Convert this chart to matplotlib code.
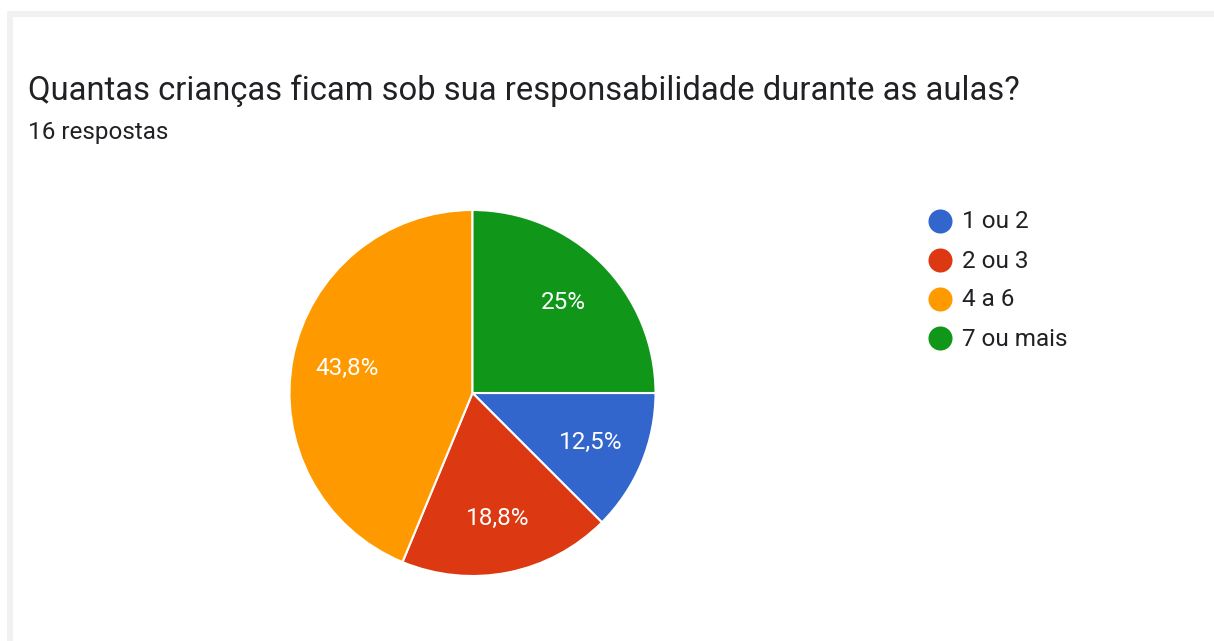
import matplotlib.pyplot as plt

# Dados do gráfico (16 respostas)
categorias = ['1 ou 2', '2 ou 3', '4 a 6', '7 ou mais']
respostas = [2, 3, 7, 4]
cores = ['#3366cc', '#dc3912', '#ff9900', '#109618']
titulo = 'Quantas crianças ficam sob sua responsabilidade durante as aulas?'
subtitulo = '16 respostas'

plt.rcParams['font.family'] = ['Roboto', 'DejaVu Sans']

W, H = 1214, 641
fig = plt.figure(figsize=(W / 100, H / 100), dpi=100)

# Fundo / moldura em coordenadas de pixel
bg = fig.add_axes([0, 0, 1, 1])
bg.set_xlim(0, W)
bg.set_ylim(H, 0)
bg.axis('off')
bg.add_patch(plt.Rectangle((7, 11), W - 7, 6, color='#f1f1f1', lw=0))
bg.add_patch(plt.Rectangle((7, 11), 6, H - 11, color='#f1f1f1', lw=0))

bg.text(28, 100, titulo, fontsize=23.6, color='#202124', va='baseline', ha='left')
bg.text(28, 139, subtitulo, fontsize=17.5, color='#202124', va='baseline', ha='left')

# Legenda
for i, (cat, cor) in enumerate(zip(categorias, cores)):
    y = 221 + i * 39
    bg.scatter([940], [y], s=300, color=cor, lw=0)
    bg.text(962, y + 1, cat, fontsize=17.5, color='#202124', va='center', ha='left')

# Pizza
cx, cy, r = 472.5, 393, 183
ax = fig.add_axes([(cx - r) / W, (H - cy - r) / H, 2 * r / W, 2 * r / H])


def fmt(p):
    s = f'{p:.1f}'
    if s.endswith('.0'):
        s = s[:-2]
    return s.replace('.', ',') + '%'


ax.pie(respostas, colors=cores, startangle=0, counterclock=False,
       autopct=fmt, pctdistance=0.7,
       wedgeprops={'edgecolor': 'white', 'linewidth': 1.5},
       textprops={'color': 'white', 'fontsize': 17.5})
ax.set_xlim(-1, 1)
ax.set_ylim(-1, 1)
ax.set_aspect('auto')

fig.savefig('out.png', dpi=100)
